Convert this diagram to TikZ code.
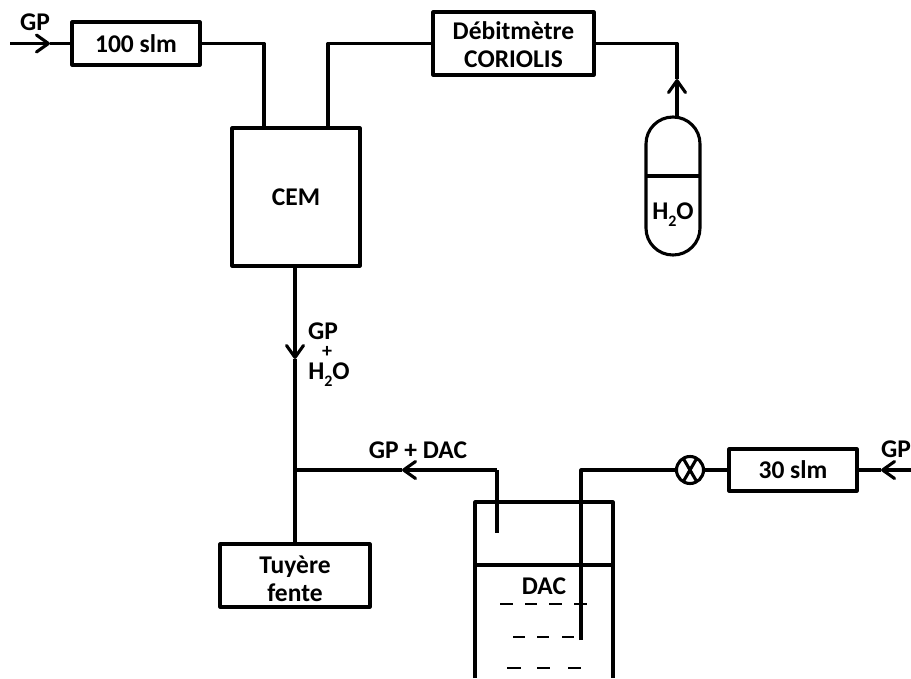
\documentclass[tikz,border=0pt]{standalone}
\usepackage{fontspec}
\setmainfont{Carlito}[BoldFont={Carlito Bold}]
\usetikzlibrary{arrows.meta}
\newcommand{\lowtwo}{\raisebox{-0.55ex}{\fontsize{16}{16}\selectfont 2}}
\begin{document}
\begin{tikzpicture}[x=1pt,y=-1pt,
  line width=3.1pt,line join=round,
  every node/.style={font=\bfseries\fontsize{25.5}{28}\selectfont,inner sep=0pt,outer sep=0pt,align=center},
  boxed/.style={draw,minimum width=#1},
  boxh/.style={minimum height=#1},
  flow/.style={-{Straight Barb[length=12pt,width=17pt,line width=3.1pt,round]}},
  dashrow/.style={line width=2pt}]
\useasboundingbox (0,0) rectangle (911,678);
% boxes
\node[boxed=128,boxh=43] (b100) at (136,43.5) {100 slm};
\node[boxed=161,boxh=63] (deb) at (513.5,43.5) {};
\node (deblab) at (513.5,44.5) {Débitmètre\\CORIOLIS};
\node[boxed=128,boxh=138] (cem) at (296,197) {CEM};
\node[boxed=150,boxh=63] (tuy) at (295,575.5) {};
\node (tuylab) at (295,578.5) {Tuyère\\fente};
\node[boxed=128,boxh=42] (b30) at (793,470) {30 slm};
\node[draw,circle,minimum size=27] (valve) at (690,470) {};
\draw (valve.60) -- (valve.240) (valve.120) -- (valve.300);
% labels
\node (gpa) at (35,22) {GP};
\node (gpb) at (896,449) {GP};
\node (gpdac) at (418,450) {GP + DAC};
\node (dac) at (544,586) {DAC};
\node (gpc) at (323,331) {GP};
\node[font=\bfseries\fontsize{20}{20}\selectfont] (plus) at (327,352) {+};
\node (hb) at (329,375) {H\lowtwo O};
\node (ha) at (673,215) {H\lowtwo O};
% coordinates
\coordinate (inA) at (10,43.5);
\coordinate (tipA) at (50,43.5);
\coordinate (inB) at (911,470);
\coordinate (tipB) at (881,470);
\coordinate (cemL) at (264,128);
\coordinate (cemR) at (328,128);
\coordinate (capTop) at (677,117);
\coordinate (tipC) at (677,79);
\coordinate (tipD) at (295,359);
\coordinate (jun) at (295,470);
\coordinate (tipE) at (402,470);
\coordinate (bend) at (497,470);
\coordinate (outEnd) at (497,533);
\coordinate (dipEnd) at (581,640);
% connectors
\draw[flow] (inA) -- (tipA);
\draw (tipA) -- (b100.west);
\draw (b100.east) -| (cemL);
\draw (cemR) |- (deb.west);
\draw (deb.east) -| (tipC);
\draw[flow] (capTop) -- (tipC);
\draw[flow] (cem.south -| tipD) -- (tipD);
\draw (tipD) -- (tuy.north -| tipD);
\draw[flow] (bend) -- (tipE);
\draw (tipE) -- (jun);
\draw (bend) -- (outEnd);
\draw (dipEnd) |- (valve.west);
\draw (valve.east) -- (b30.west);
\draw[flow] (inB) -- (tipB);
\draw (tipB) -- (b30.east);
% H2O vessel
\draw[rounded corners=26.9pt] (646,117) rectangle (700,255);
\draw (646,176) -- (700,176);
% DAC tank
\draw (475,678) -- (475,502) -- (613,502) -- (613,678);
\draw (475,565) -- (613,565);
% liquid dashes
\draw[dashrow] (500,604) -- (513,604) (525,604) -- (537,604) (549,604) -- (562,604) (574,604) -- (587,604);
\draw[dashrow] (513,637) -- (525,637) (537,637) -- (549,637) (562,637) -- (574,637);
\draw[dashrow] (507,668) -- (521,668) (537,668) -- (550,668) (568,668) -- (581,668);
\end{tikzpicture}
\end{document}
